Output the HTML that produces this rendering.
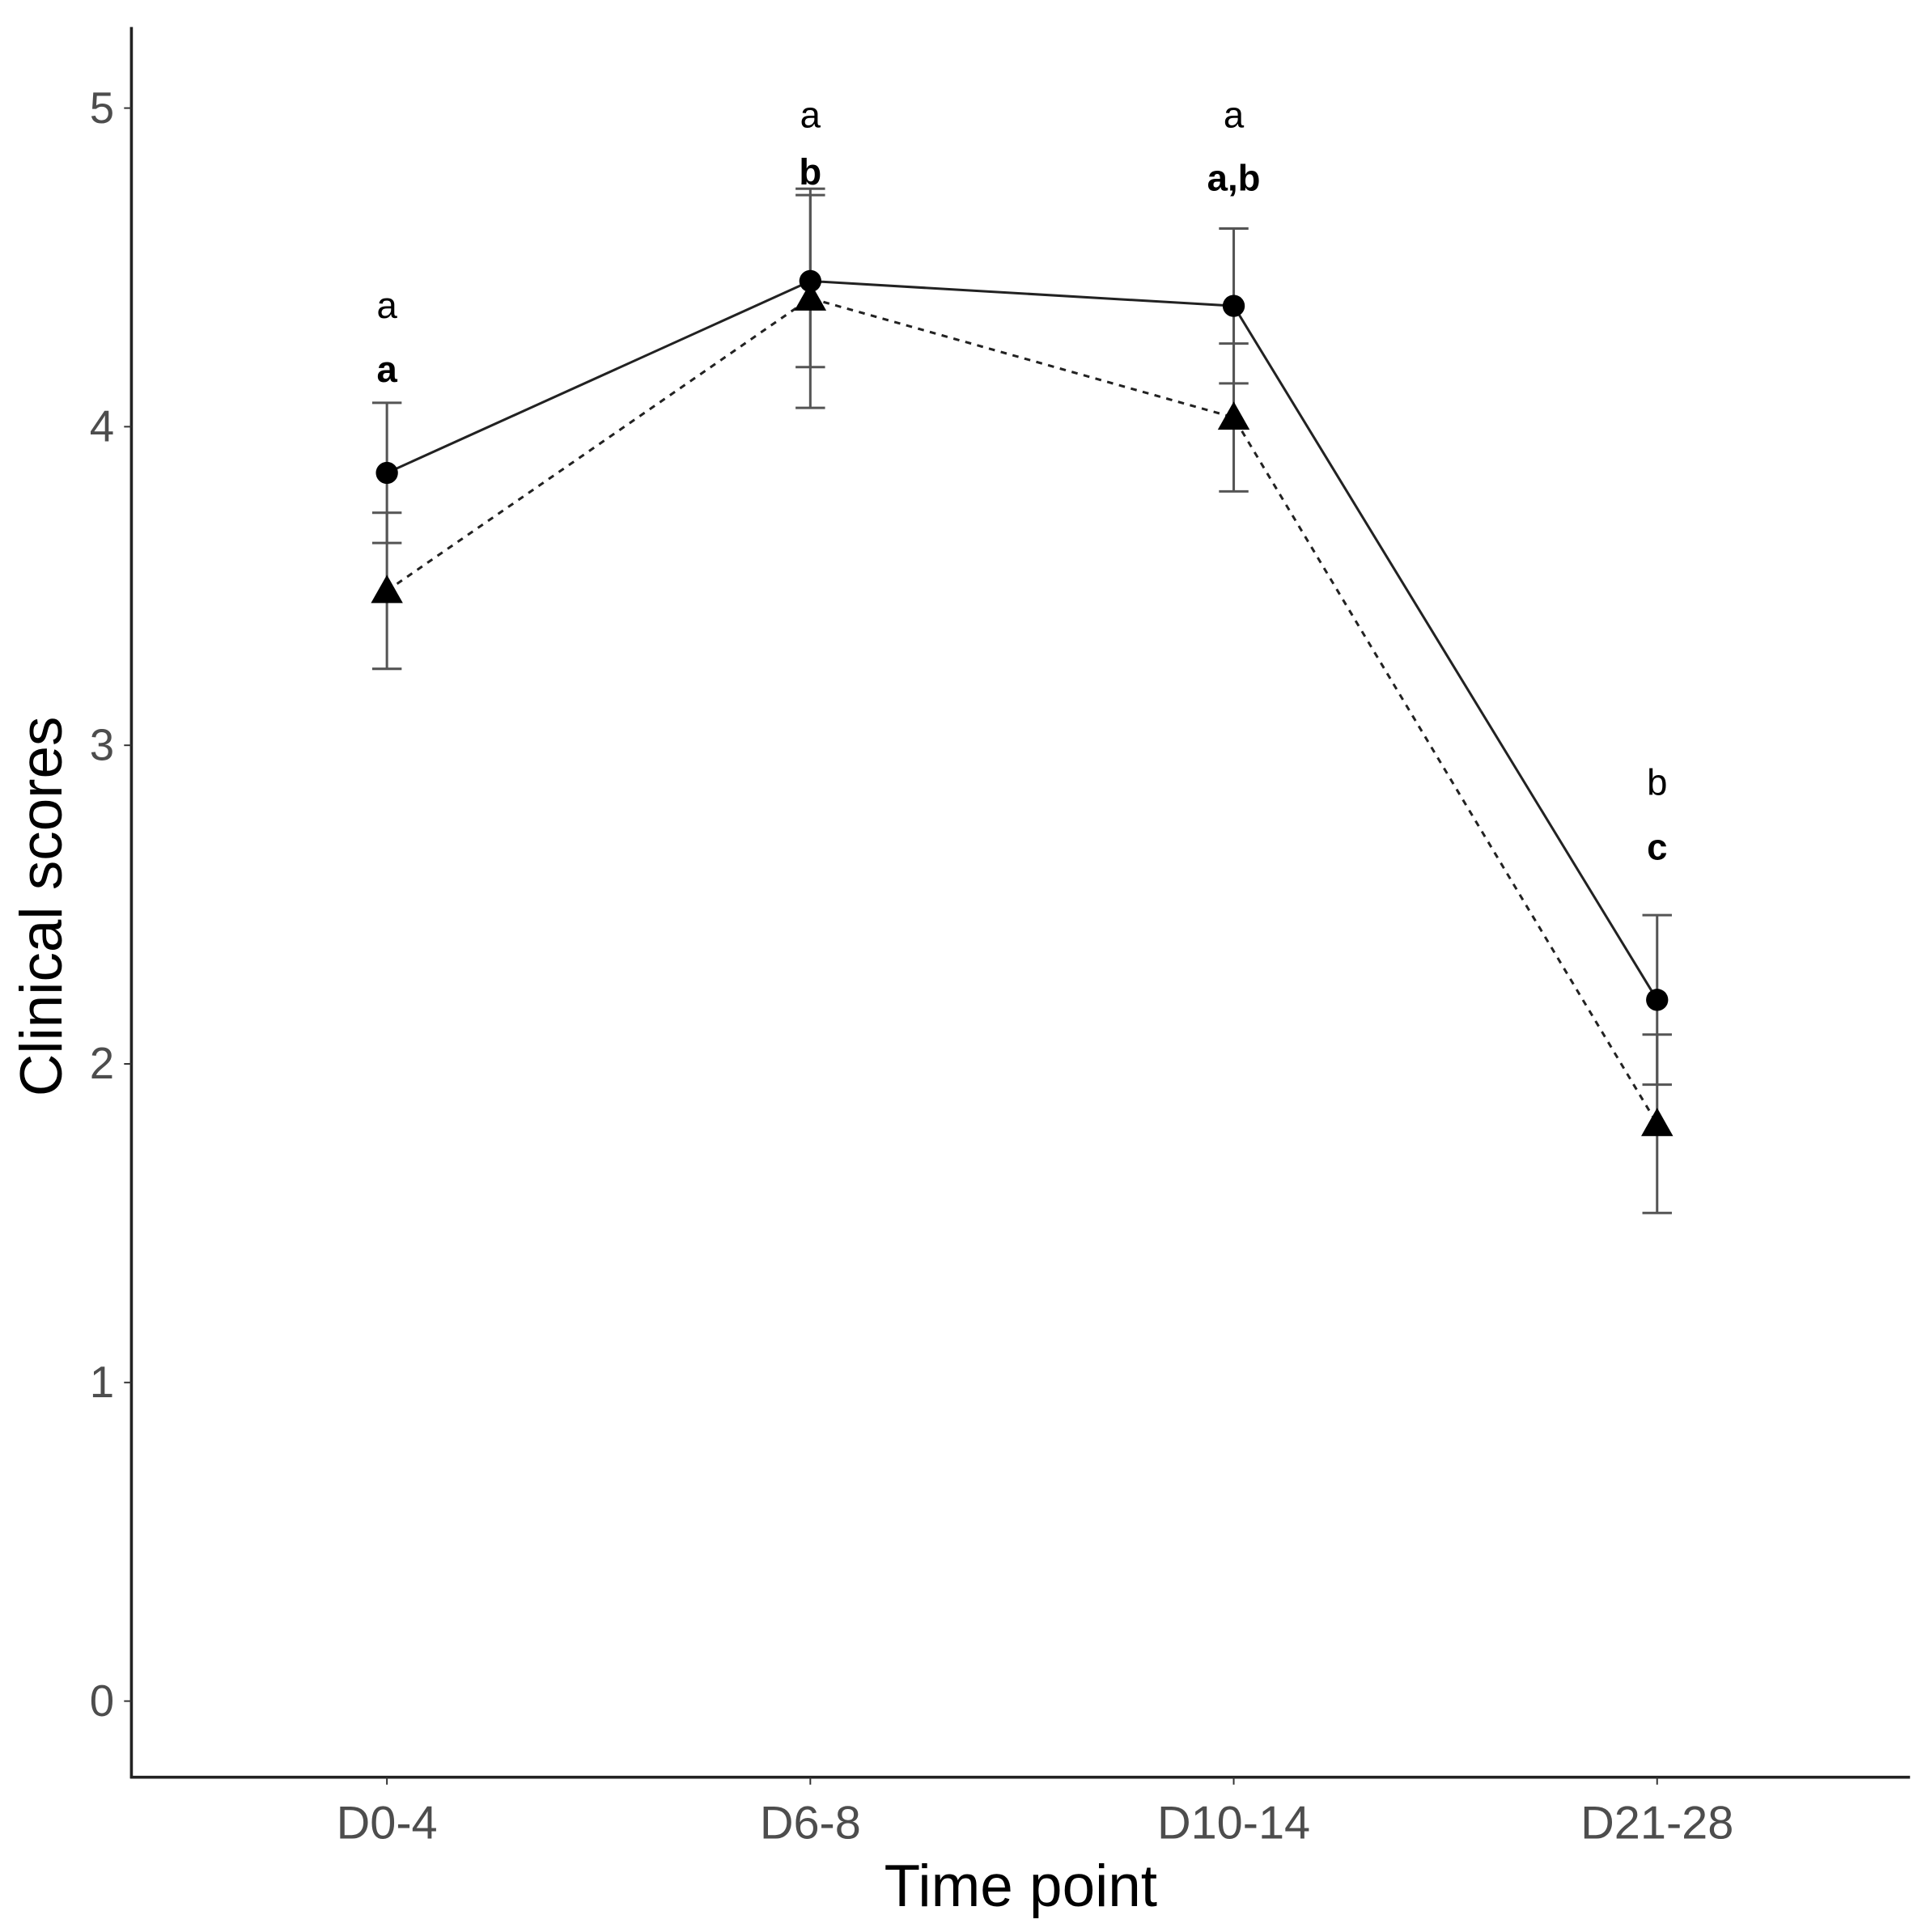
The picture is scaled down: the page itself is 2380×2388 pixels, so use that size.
<!DOCTYPE html>
<html><head><meta charset="utf-8"><style>
html,body{margin:0;padding:0;background:#fff}
svg{display:block}
text{font-family:"Liberation Sans",sans-serif}
</style></head><body>
<svg id="chart" width="2380" height="2388" viewBox="0 0 1568 1573" preserveAspectRatio="none" xmlns="http://www.w3.org/2000/svg">
<g id="g"></g>
</svg>
<script>
const categories = ["D0-4","D6-8","D10-14","D21-28"];
const circleMeans = [3.855, 4.457, 4.379, 2.201];
const circleErr = [0.22, 0.27, 0.243, 0.266];
const triMeans = [3.485, 4.403, 4.029, 1.812];
const triErr = [0.245, 0.344, 0.232, 0.28];
const lettersTop = ["a","a","a","b"];
const lettersBold = ["a","b","a,b","c"];
const lettersTopY = [4.387, 4.985, 4.985, 2.891];
const lettersBoldY = [4.187, 4.807, 4.788, 2.687];
const yTicks = [0,1,2,3,4,5];

const NS="http://www.w3.org/2000/svg";
const g=document.getElementById('g');
const L=107, R=1555, T=22, B=1447;
function y(v){return 1385 - v*259.4;}
function x(i){return 315 + i*344.7;}
function el(t,a,txt){const e=document.createElementNS(NS,t);for(const k in a)e.setAttribute(k,a[k]);if(txt!==undefined)e.textContent=txt;g.appendChild(e);return e;}

let e;
e=el('line',{x1:L,y1:T,x2:L,y2:B+1,stroke:'#222','stroke-width':2.4});


e=el('line',{x1:L-1,y1:B,x2:R,y2:B,stroke:'#222','stroke-width':2.4});



yTicks.forEach(v=>{
  e=el('line',{x1:L-6,y1:y(v),x2:L,y2:y(v),stroke:'#333','stroke-width':1.3});
  
  
  e=el('text',{x:L-14,y:y(v)+12,'text-anchor':'end','font-size':36,fill:'#4d4d4d'},String(v));
  
  
});
categories.forEach((c,i)=>{
  e=el('line',{x1:x(i),y1:B,x2:x(i),y2:B+6,stroke:'#333','stroke-width':1.3});
  
  
  e=el('text',{x:x(i),y:B+50,'text-anchor':'middle','font-size':38,fill:'#4d4d4d'},c);
  
  
});
e=el('text',{x:831,y:1552,'text-anchor':'middle','font-size':48,fill:'#000'},'Time point');


e=el('text',{x:0,y:0,'text-anchor':'middle','font-size':48,fill:'#000',transform:'translate(50,738) rotate(-90)'},'Clinical scores');



function errbars(means,errs,name){
  means.forEach((m,i)=>{
    const lo=y(m-errs[i]), hi=y(m+errs[i]), cx=x(i);
    e=el('path',{d:`M${cx},${lo}V${hi}M${cx-12},${lo}H${cx+12}M${cx-12},${hi}H${cx+12}`,stroke:'#555','stroke-width':2,fill:'none'});
    
    
  });
}
errbars(circleMeans,circleErr,'circle-error-bar');
errbars(triMeans,triErr,'triangle-error-bar');

e=el('polyline',{points:circleMeans.map((m,i)=>x(i)+','+y(m)).join(' '),fill:'none',stroke:'#222','stroke-width':2});


e=el('polyline',{points:triMeans.map((m,i)=>x(i)+','+y(m)).join(' '),fill:'none',stroke:'#222','stroke-width':2,'stroke-dasharray':'5,5'});



circleMeans.forEach((m,i)=>{
  e=el('circle',{cx:x(i),cy:y(m),r:9,fill:'#000'});
  
  
});
triMeans.forEach((m,i)=>{
  const cx=x(i), cy=y(m);
  e=el('polygon',{points:`${cx},${cy-13} ${cx-13},${cy+10} ${cx+13},${cy+10}`,fill:'#000'});
  
  
});
lettersTop.forEach((t,i)=>{
  e=el('text',{x:x(i),y:y(lettersTopY[i])+12,'text-anchor':'middle','font-size':30,fill:'#000'},t);
  
  
});
lettersBold.forEach((t,i)=>{
  e=el('text',{x:x(i),y:y(lettersBoldY[i])+12,'text-anchor':'middle','font-size':30,'font-weight':'bold',fill:'#000'},t);
  
  
});
</script>
</body></html>
